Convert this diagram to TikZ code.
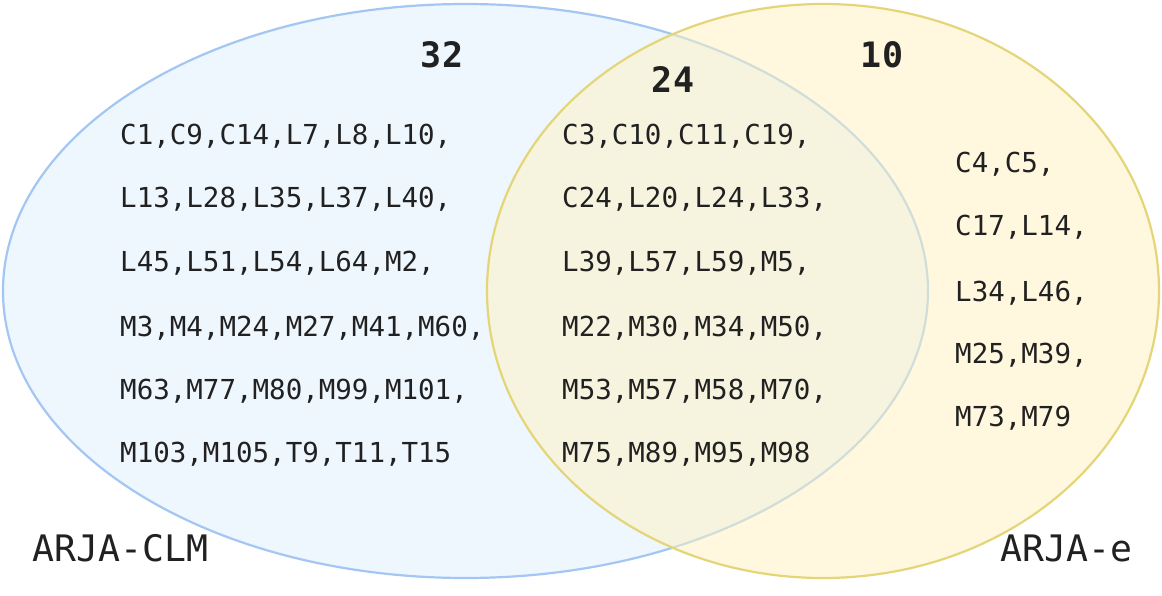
\documentclass[tikz,border=0pt]{standalone}
\usepackage{fontspec}
\setmonofont{DejaVu Sans Mono}
\definecolor{blfill}{RGB}{238,246,254}
\definecolor{blline}{RGB}{163,199,242}
\definecolor{yefill}{RGB}{255,243,192}
\definecolor{yeline}{RGB}{228,214,120}
\definecolor{ink}{RGB}{33,33,33}
\tikzset{
  lst/.style={anchor=base west, inner sep=0pt, text=ink, font=\ttfamily\fontsize{27.5}{33}\selectfont},
  cnt/.style={anchor=base, inner sep=0pt, text=ink, font=\ttfamily\bfseries\fontsize{35}{40}\selectfont},
  setlabel/.style={inner sep=0pt, text=ink, font=\ttfamily\fontsize{36.5}{42}\selectfont},
}
\begin{document}
\begin{tikzpicture}[x=1pt,y=-1pt]
\useasboundingbox (0,0) rectangle (1162,596);
\fill[white] (0,0) rectangle (1162,596);
% sets
\draw[blline, line width=2.2pt, fill=blfill] (465.5,291) ellipse [x radius=462.5, y radius=287];
\fill[yefill, fill opacity=0.5] (823,291) ellipse [x radius=336, y radius=287];
\draw[yeline, line width=2.2pt] (823,291) ellipse [x radius=336, y radius=287];
% counts
\node[cnt] (n32) at (442,68) {32};
\node[cnt] (n24) at (673,93) {24};
\node[cnt] (n10) at (882,68) {10};
% left only
\node[lst] (l1) at (120,145) {C1,C9,C14,L7,L8,L10,};
\node[lst] (l2) at (120,208) {L13,L28,L35,L37,L40,};
\node[lst] (l3) at (120,272) {L45,L51,L54,L64,M2,};
\node[lst] (l4) at (120,336) {M3,M4,M24,M27,M41,M60,};
\node[lst] (l5) at (120,399) {M63,M77,M80,M99,M101,};
\node[lst] (l6) at (120,462) {M103,M105,T9,T11,T15};
% both
\node[lst] (m1) at (562,145) {C3,C10,C11,C19,};
\node[lst] (m2) at (562,208) {C24,L20,L24,L33,};
\node[lst] (m3) at (562,272) {L39,L57,L59,M5,};
\node[lst] (m4) at (562,336) {M22,M30,M34,M50,};
\node[lst] (m5) at (562,399) {M53,M57,M58,M70,};
\node[lst] (m6) at (562,462) {M75,M89,M95,M98};
% right only
\node[lst] (r1) at (955,173) {C4,C5,};
\node[lst] (r2) at (955,236) {C17,L14,};
\node[lst] (r3) at (955,301) {L34,L46,};
\node[lst] (r4) at (955,363) {M25,M39,};
\node[lst] (r5) at (955,426) {M73,M79};
% set labels
\node[setlabel, anchor=base west] (la) at (32,561) {ARJA-CLM};
\node[setlabel, anchor=base east] (lb) at (1133,561) {ARJA-e};
\end{tikzpicture}
\end{document}
